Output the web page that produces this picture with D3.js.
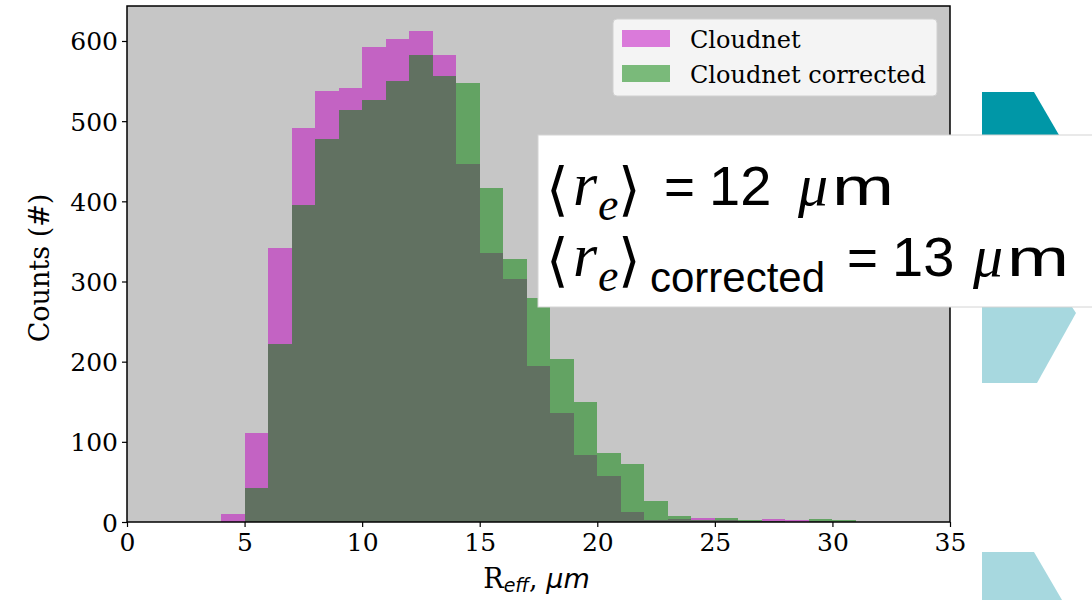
<!DOCTYPE html>
<html>
<head>
<meta charset="utf-8">
<script src="https://cdn.jsdelivr.net/npm/d3@7"></script>
<style>
  html, body { margin: 0; padding: 0; background: #ffffff; }
  svg { display: block; }
</style>
</head>
<body>
<svg id="chart" width="1092" height="600"></svg>
<script>
// ---- data ----
const binStarts = d3.range(0, 35, 1);           // histogram bins of width 1 µm
const cloudnet = [0,0,0,0,10,111,342,491,538,541,592,602,613,582,446,335,303,194,136,84,57,12,3,4,5,2,1,4,2,1,0,0,0,0,0];
const corrected = [0,0,0,0,0,43,222,396,478,514,526,550,582,556,547,417,328,280,203,150,86,72,26,8,2,5,3,1,0,4,2,0,0,0,0];
const xTicks = [0,5,10,15,20,25,30,35];
const yTicks = [0,100,200,300,400,500,600];
const seriesNames = ["Cloudnet", "Cloudnet corrected"];

// ---- layout ----
const svg = d3.select("#chart");
const L = 127, R = 950, T = 6, B = 522;
const yMax = d3.max(cloudnet.concat(corrected)) * 1.05;
const x = d3.scaleLinear().domain([0, 35]).range([L, R]);
const y = d3.scaleLinear().domain([0, yMax]).range([B, T]);
const serif = "'DejaVu Serif', serif";
const sans = "'DejaVu Sans', sans-serif";

// decorative slide shapes (behind)
const deco = svg.append("g");
deco.append("polygon").attr("points", "982,92 1034,92 1059,135 982,135").attr("fill", "#0097a7");
deco.append("polygon").attr("points", "982,307 1072,307 1076,313 1037,383 982,383").attr("fill", "#a7d8df");
deco.append("polygon").attr("points", "982,552 1034,552 1062,600 982,600").attr("fill", "#a7d8df");

// axes background
svg.append("rect").attr("x", L).attr("y", T).attr("width", R - L).attr("height", B - T).attr("fill", "#c6c6c6");

// bars
const bars = svg.append("g").attr("shape-rendering", "crispEdges");
function drawSeries(vals, color) {
  bars.append("g").selectAll("rect")
    .data(binStarts.map((s, i) => ({s, v: vals[i]})).filter(d => d.v > 0))
    .join("rect")
    .attr("x", d => Math.round(x(d.s)))
    .attr("width", d => Math.round(x(d.s + 1)) - Math.round(x(d.s)))
    .attr("y", d => y(d.v))
    .attr("height", d => y(0) - y(d.v))
    .attr("fill", color)
    .attr("fill-opacity", 0.5);
}
drawSeries(cloudnet, "#bf00bf");
drawSeries(corrected, "#008000");

// frame
svg.append("rect").attr("x", L).attr("y", T).attr("width", R - L).attr("height", B - T)
  .attr("fill", "none").attr("stroke", "#000").attr("stroke-width", 1.5);

// axes
const xAxis = svg.append("g").attr("transform", `translate(0,${B})`)
  .call(d3.axisBottom(x).tickValues(xTicks).tickSize(5).tickPadding(4).tickFormat(d3.format("d")));
const yAxis = svg.append("g").attr("transform", `translate(${L},0)`)
  .call(d3.axisLeft(y).tickValues(yTicks).tickSize(5).tickPadding(4).tickFormat(d3.format("d")));
[xAxis, yAxis].forEach(a => {
  a.select(".domain").remove();
  a.selectAll(".tick line").attr("stroke", "#000").attr("stroke-width", 1.2);
  a.selectAll(".tick text").attr("font-family", serif).attr("font-size", 25).attr("fill", "#000");
});
xAxis.selectAll(".tick text").attr("dy", "0.78em");
yAxis.selectAll(".tick text").attr("dy", "0.36em");

// axis labels
svg.append("text").attr("transform", `translate(49,${(T + B) / 2 + 4}) rotate(-90)`)
  .attr("text-anchor", "middle").attr("font-family", serif).attr("font-size", 27).attr("fill", "#000")
  .text("Counts (#)");
const xl = svg.append("text").attr("x", (L + R) / 2 - 2).attr("y", 588).attr("text-anchor", "middle")
  .attr("font-family", serif).attr("font-size", 27).attr("fill", "#000");
xl.append("tspan").text("R");
xl.append("tspan").attr("font-family", sans).attr("font-style", "italic").attr("font-size", 19).attr("dy", 4).text("eff");
xl.append("tspan").attr("dy", -4).text(", ");
xl.append("tspan").attr("font-family", sans).attr("font-style", "italic").text("\u03bcm");

// legend
const lg = svg.append("g");
lg.append("rect").attr("x", 613).attr("y", 19).attr("width", 324).attr("height", 77).attr("rx", 4)
  .attr("fill", "#ffffff").attr("fill-opacity", 0.8).attr("stroke", "#d0d0d0").attr("stroke-width", 1);
const legColors = ["#bf00bf", "#008000"];
seriesNames.forEach((n, i) => {
  lg.append("rect").attr("x", 622).attr("y", 30 + i * 35).attr("width", 48).attr("height", 17)
    .attr("fill", legColors[i]).attr("fill-opacity", 0.5);
  lg.append("text").attr("x", 690).attr("y", 48 + i * 35).attr("font-family", serif).attr("font-size", 24)
    .attr("fill", "#000").text(n);
});

// annotation box
const ann = svg.append("g");
ann.append("rect").attr("x", 538).attr("y", 135).attr("width", 560).attr("height", 172)
  .attr("fill", "#fff").attr("stroke", "#d4d4d4").attr("stroke-width", 1);
const mathF = "'Liberation Serif', 'DejaVu Serif', serif";
const txtF = "'Liberation Sans', Arial, sans-serif";
function mean(baseY, valueText, xs, sub) {
  const g = ann.append("g").attr("fill", "#000");
  g.append("text").attr("x", xs.lb).attr("y", baseY + 4).attr("font-family", "'DejaVu Sans', sans-serif").attr("font-size", 58).text("\u27e8");
  g.append("text").attr("x", xs.r).attr("y", baseY).attr("font-family", mathF).attr("font-style", "italic").attr("font-size", 62).text("r");
  g.append("text").attr("x", xs.e).attr("y", baseY + 15).attr("font-family", mathF).attr("font-style", "italic").attr("font-size", 46).text("e");
  g.append("text").attr("x", xs.rb).attr("y", baseY + 4).attr("font-family", "'DejaVu Sans', sans-serif").attr("font-size", 58).text("\u27e9");
  if (sub) g.append("text").attr("x", xs.sub).attr("y", baseY + 16).attr("font-family", txtF).attr("font-size", 42).text(sub);
  g.append("text").attr("x", xs.eq).attr("y", baseY).attr("font-family", txtF).attr("font-size", 53).text("=");
  g.append("text").attr("x", xs.num).attr("y", baseY).attr("font-family", txtF).attr("font-size", 56).text(valueText);
  g.append("text").attr("x", xs.mu).attr("y", baseY).attr("font-family", mathF).attr("font-style", "italic").attr("font-size", 60).text("\u03bc");
  g.append("text").attr("x", xs.mu + 34).attr("y", baseY).attr("font-family", txtF).attr("font-size", 54)
    .attr("textLength", 62).attr("lengthAdjust", "spacingAndGlyphs").text("m");
}
mean(205, "12", {lb: 546, r: 573, e: 598, rb: 618, eq: 664, num: 709, mu: 798});
mean(276, "13", {lb: 546, r: 573, e: 598, rb: 618, sub: 650, eq: 847, num: 892, mu: 973}, "corrected");
</script>
</body>
</html>
